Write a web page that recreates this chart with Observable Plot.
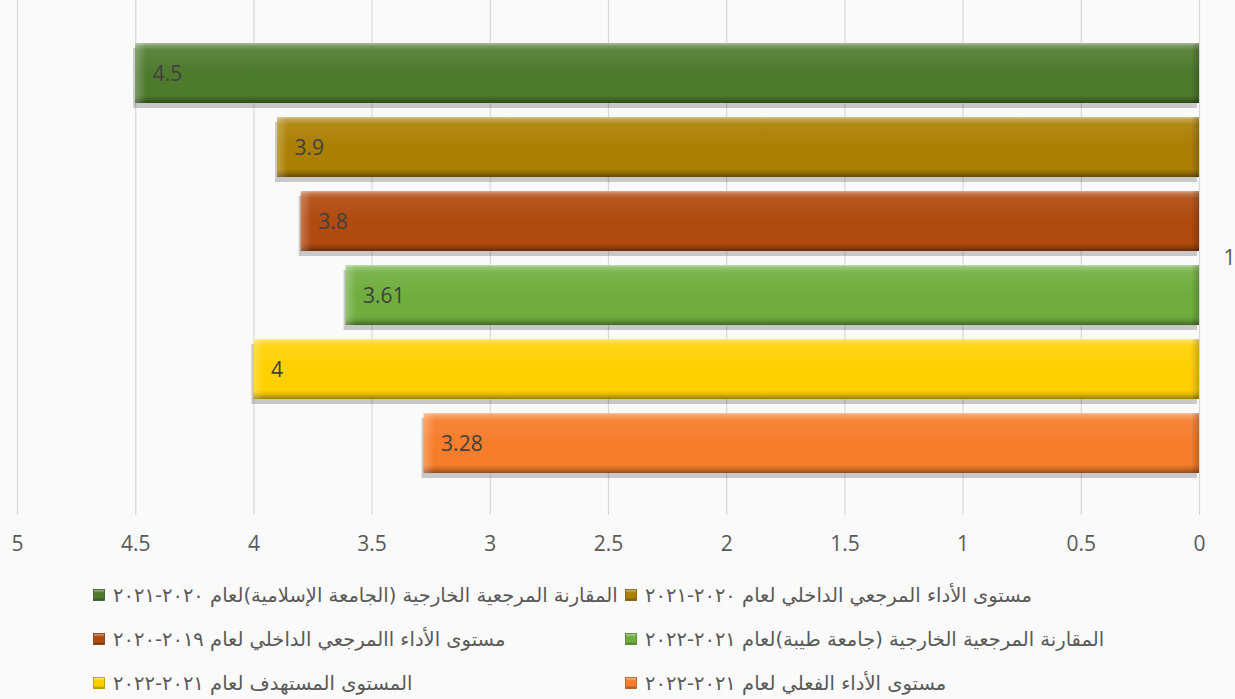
<!DOCTYPE html>
<html>
<head>
<meta charset="utf-8">
<script src="https://cdn.jsdelivr.net/npm/d3@7"></script>
<script src="https://cdn.jsdelivr.net/npm/@observablehq/plot@0.6"></script>
<style>
  html, body { margin: 0; padding: 0; background: #fafafa; }
  #wrap { position: relative; width: 1235px; height: 699px; overflow: hidden; background: #fafafa; }
  #legend { position: absolute; left: 0; top: 573px; width: 1235px; }
  .row { position: relative; height: 44px; }
  .item { position: absolute; top: 0; height: 44px; display: flex; align-items: center; }
  .sw { width: 12px; height: 12px; margin-right: 8px; }
  .lbl { direction: rtl; unicode-bidi: isolate; font-family: "DejaVu Sans", sans-serif; font-size: 19.5px; color: #595959; white-space: nowrap; }
</style>
</head>
<body>
<div id="wrap"><div id="chart"></div><div id="legend"></div></div>
<script>
// ---- data ----
const category = "1";
const series = [
  "المقارنة المرجعية الخارجية (الجامعة الإسلامية)لعام ٢٠٢٠-٢٠٢١",
  "مستوى الأداء المرجعي الداخلي لعام ٢٠٢٠-٢٠٢١",
  "مستوى الأداء االمرجعي الداخلي لعام ٢٠١٩-٢٠٢٠",
  "المقارنة المرجعية الخارجية (جامعة طيبة)لعام ٢٠٢١-٢٠٢٢",
  "المستوى المستهدف لعام ٢٠٢١-٢٠٢٢",
  "مستوى الأداء الفعلي لعام ٢٠٢١-٢٠٢٢"
];
const values = [4.5, 3.9, 3.8, 3.61, 4, 3.28];
const valueLabels = ["4.5", "3.9", "3.8", "3.61", "4", "3.28"];
const xTicks = [0, 0.5, 1, 1.5, 2, 2.5, 3, 3.5, 4, 4.5, 5];
const colors = ["#4e7a2e", "#ab7f02", "#b04a0f", "#6fae3e", "#ffd000", "#f67d2a"];

const table = series.map((s, i) => ({
  cat: category, series: s, value: values[i], label: valueLabels[i], grad: `url(#g${i})`
}));

const plot = Plot.plot({
  width: 1235,
  height: 570,
  marginLeft: 17,
  marginRight: 36,
  marginTop: 0,
  marginBottom: 55,
  style: { background: "transparent", fontFamily: "'Open Sans', sans-serif", color: "#595959" },
  x: { domain: [0, 5], reverse: true, label: null },
  fy: { domain: [category], label: null, padding: 0 },
  y: { domain: series, axis: null, paddingInner: 0.195, paddingOuter: 0.554 },
  color: { type: "identity" },
  marks: [
    Plot.ruleX(xTicks, { stroke: "#d8d8d8", strokeWidth: 1.2 }),
    Plot.axisX({ ticks: xTicks, tickFormat: d => String(d), tickSize: 0, tickPadding: 21, fontSize: 21, fill: "#595959", label: null, fontFamily: "'Open Sans', sans-serif" }),
    Plot.axisFy({ anchor: "right", tickSize: 0, tickPadding: 24, fontSize: 21, fill: "#595959", label: null, fontFamily: "'Open Sans', sans-serif" }),
    // drop shadow
    Plot.barX(table, { fy: "cat", y: "series", x: "value", fill: "#000", fillOpacity: 0.2, dy: 5, dx: -2 }),
    // main bars with bevel gradient
    Plot.barX(table, { fy: "cat", y: "series", x: "value", fill: "grad" }),
    // left bevel highlight
    Plot.barX(table, { fy: "cat", y: "series", x1: "value", x2: d => d.value - 0.045, fill: "url(#lb)" }),
    // right bevel shadow
    Plot.barX(table, { fy: "cat", y: "series", x1: 0.035, x2: 0, fill: "url(#rb)" }),
    Plot.text(table, { fy: "cat", y: "series", x: "value", text: "label", textAnchor: "start", dx: 17, dy: 1, fill: "#404040", fontSize: 21, fontFamily: "'Open Sans', sans-serif" })
  ]
});

// gradient defs
const svg = d3.select(plot);
const defs = svg.insert("defs", ":first-child");
colors.forEach((c, i) => {
  const light = d3.interpolateRgb(c, "#ffffff")(0.55);
  const light2 = d3.interpolateRgb(c, "#ffffff")(0.28);
  const light3 = d3.interpolateRgb(c, "#ffffff")(0.08);
  const dark = d3.interpolateRgb(c, "#000000")(0.12);
  const dark2 = d3.interpolateRgb(c, "#000000")(0.4);
  const g = defs.append("linearGradient").attr("id", `g${i}`).attr("x1", 0).attr("y1", 0).attr("x2", 0).attr("y2", 1);
  [[0, light], [0.04, light2], [0.12, light3], [0.5, c], [0.86, c], [0.92, dark], [1, dark2]].forEach(([o, col]) =>
    g.append("stop").attr("offset", o).attr("stop-color", col));
});
const lb = defs.append("linearGradient").attr("id", "lb").attr("x1", 0).attr("x2", 1);
lb.append("stop").attr("offset", 0).attr("stop-color", "#ffffff").attr("stop-opacity", 0.25);
lb.append("stop").attr("offset", 1).attr("stop-color", "#ffffff").attr("stop-opacity", 0);
const rb = defs.append("linearGradient").attr("id", "rb").attr("x1", 0).attr("x2", 1);
rb.append("stop").attr("offset", 0).attr("stop-color", "#000000").attr("stop-opacity", 0);
rb.append("stop").attr("offset", 1).attr("stop-color", "#000000").attr("stop-opacity", 0.2);

document.getElementById("chart").appendChild(plot);

// legend: two columns, three rows (order as in the reference)
const legendRows = [[0, 1], [2, 3], [4, 5]];
const colX = [93, 625];
const legend = d3.select("#legend");
legendRows.forEach(row => {
  const r = legend.append("div").attr("class", "row");
  row.forEach((si, ci) => {
    const it = r.append("div").attr("class", "item").style("left", colX[ci] + "px");
    const sw = it.append("svg").attr("class", "sw").attr("width", 12).attr("height", 12);
    sw.append("defs").html(`<linearGradient id="ls${si}" x1="0" y1="0" x2="0" y2="1">
      <stop offset="0" stop-color="${d3.interpolateRgb(colors[si], "#fff")(0.5)}"/>
      <stop offset="0.3" stop-color="${colors[si]}"/>
      <stop offset="0.75" stop-color="${colors[si]}"/>
      <stop offset="1" stop-color="${d3.interpolateRgb(colors[si], "#000")(0.35)}"/></linearGradient>`);
    sw.append("rect").attr("x", 0.5).attr("y", 0.5).attr("width", 11).attr("height", 11).attr("fill", `url(#ls${si})`)
      .attr("stroke", d3.interpolateRgb(colors[si], "#000")(0.3)).attr("stroke-width", 0.8);
    it.append("span").attr("class", "lbl").text(series[si]);
  });
});
</script>
</body>
</html>
